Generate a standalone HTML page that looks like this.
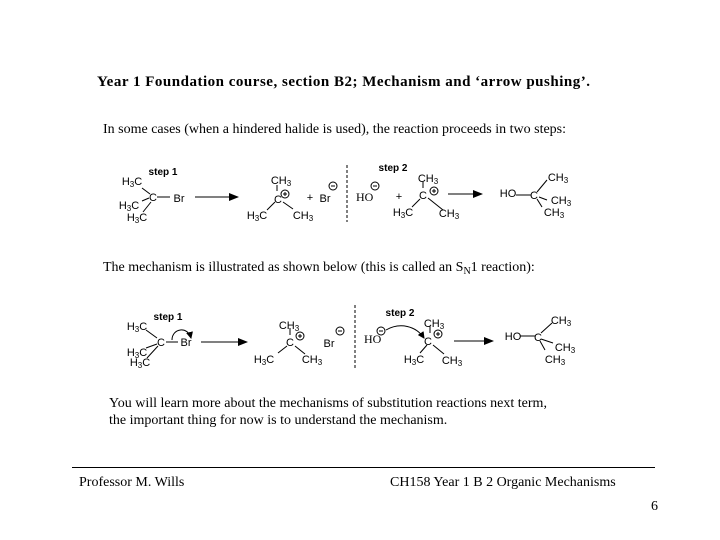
<!DOCTYPE html>
<html><head><meta charset="utf-8"><style>
html,body{margin:0;padding:0;background:#fff;}
svg{display:block}
.s{font-family:"Liberation Serif",serif;fill:#000}
.c{font-family:"Liberation Sans",sans-serif;font-size:11px;fill:#000;text-anchor:middle}
.b{font-family:"Liberation Sans",sans-serif;font-size:10px;font-weight:bold;fill:#000;text-anchor:middle}
</style></head><body>
<svg width="720" height="540" viewBox="0 0 720 540" xmlns="http://www.w3.org/2000/svg">
<defs>
<marker id="ah" markerWidth="10" markerHeight="8" refX="9" refY="4" orient="auto" markerUnits="userSpaceOnUse"><path d="M0,0 L10,4 L0,8 Z" fill="#000"/></marker>
<marker id="ah2" markerWidth="7" markerHeight="7" refX="6" refY="3.5" orient="auto" markerUnits="userSpaceOnUse"><path d="M0,0 L7,3.5 L0,7 Z" fill="#000"/></marker>
</defs>
<text class="s" x="97" y="86" font-size="15" font-weight="bold" textLength="493" lengthAdjust="spacing">Year 1 Foundation course, section B2; Mechanism and ‘arrow pushing’.</text>
<text class="s" x="103" y="133" font-size="14">In some cases (when a hindered halide is used), the reaction proceeds in two steps:</text>
<text class="s" x="103" y="271" font-size="14">The mechanism is illustrated as shown below (this is called an S<tspan font-size="10" dy="3">N</tspan><tspan dy="-3">1 reaction):</tspan></text>
<text class="s" x="109" y="407" font-size="14">You will learn more about the mechanisms of substitution reactions next term,</text>
<text class="s" x="109" y="424" font-size="14">the important thing for now is to understand the mechanism.</text>
<line x1="72" y1="467.5" x2="655" y2="467.5" stroke="#000" stroke-width="1"/>
<text class="s" x="79" y="486" font-size="14">Professor M. Wills</text>
<text class="s" x="390" y="486" font-size="14">CH158 Year 1 B 2 Organic Mechanisms</text>
<text class="s" x="651" y="510" font-size="14">6</text>

<!-- Scheme 1 -->
<g stroke="#000" stroke-width="1" fill="none">
<line x1="142" y1="188" x2="150" y2="194"/>
<line x1="142" y1="201" x2="149" y2="198"/>
<line x1="143" y1="212" x2="151" y2="202"/>
<line x1="157" y1="197" x2="170" y2="197"/>
<line x1="195" y1="197" x2="238" y2="197" marker-end="url(#ah)"/>
<line x1="277" y1="185" x2="277" y2="191"/>
<line x1="267" y1="210" x2="275" y2="202"/>
<line x1="283" y1="202" x2="293" y2="209"/>
<circle cx="285" cy="194" r="4"/><line x1="283" y1="194" x2="287" y2="194"/><line x1="285" y1="192" x2="285" y2="196"/>
<circle cx="333" cy="186" r="4"/><line x1="331" y1="186" x2="335" y2="186"/>
<line x1="347" y1="165" x2="347" y2="222" stroke-dasharray="3,2"/>
<circle cx="375" cy="186" r="4"/><line x1="373" y1="186" x2="377" y2="186"/>
<line x1="423" y1="182" x2="423" y2="188"/>
<line x1="412" y1="207" x2="420" y2="199"/>
<line x1="428" y1="198" x2="443" y2="210"/>
<circle cx="434" cy="191" r="4"/><line x1="432" y1="191" x2="436" y2="191"/><line x1="434" y1="189" x2="434" y2="193"/>
<line x1="448" y1="194" x2="482" y2="194" marker-end="url(#ah)"/>
<line x1="516" y1="195" x2="531" y2="195"/>
<line x1="537" y1="192" x2="547" y2="180"/>
<line x1="539" y1="197" x2="547" y2="200"/>
<line x1="537" y1="199" x2="542" y2="207"/>
</g>
<text class="b" x="163" y="175">step 1</text>
<text class="c" x="132" y="185">H<tspan font-size="8" dy="2">3</tspan><tspan dy="-2">C</tspan></text>
<text class="c" x="153" y="201">C</text>
<text class="c" x="179" y="202">Br</text>
<text class="c" x="129" y="209">H<tspan font-size="8" dy="2">3</tspan><tspan dy="-2">C</tspan></text>
<text class="c" x="137" y="221">H<tspan font-size="8" dy="2">3</tspan><tspan dy="-2">C</tspan></text>
<text class="c" x="281" y="184">CH<tspan font-size="8" dy="2">3</tspan></text>
<text class="c" x="278" y="203">C</text>
<text class="c" x="257" y="219">H<tspan font-size="8" dy="2">3</tspan><tspan dy="-2">C</tspan></text>
<text class="c" x="303" y="219">CH<tspan font-size="8" dy="2">3</tspan></text>
<text class="c" x="310" y="201">+</text>
<text class="c" x="325" y="202">Br</text>
<text class="b" x="393" y="171">step 2</text>
<text class="s" x="356" y="201" font-size="12">HO</text>
<text class="c" x="399" y="200">+</text>
<text class="c" x="428" y="182">CH<tspan font-size="8" dy="2">3</tspan></text>
<text class="c" x="423" y="199">C</text>
<text class="c" x="403" y="216">H<tspan font-size="8" dy="2">3</tspan><tspan dy="-2">C</tspan></text>
<text class="c" x="449" y="217">CH<tspan font-size="8" dy="2">3</tspan></text>
<text class="c" x="508" y="197">HO</text>
<text class="c" x="534" y="199">C</text>
<text class="c" x="558" y="181">CH<tspan font-size="8" dy="2">3</tspan></text>
<text class="c" x="561" y="204">CH<tspan font-size="8" dy="2">3</tspan></text>
<text class="c" x="554" y="216">CH<tspan font-size="8" dy="2">3</tspan></text>

<!-- Scheme 2 -->
<g stroke="#000" stroke-width="1" fill="none">
<line x1="146" y1="330" x2="157" y2="338"/>
<line x1="146" y1="348" x2="157" y2="344"/>
<line x1="147" y1="358" x2="158" y2="346"/>
<line x1="166" y1="342" x2="178" y2="342"/>
<path d="M172,340 C172,328 188,326 191,338" marker-end="url(#ah2)"/>
<line x1="201" y1="342" x2="247" y2="342" marker-end="url(#ah)"/>
<line x1="290" y1="328" x2="290" y2="335"/>
<line x1="278" y1="353" x2="287" y2="346"/>
<line x1="295" y1="346" x2="305" y2="354"/>
<circle cx="300" cy="336" r="4"/><line x1="298" y1="336" x2="302" y2="336"/><line x1="300" y1="334" x2="300" y2="338"/>
<circle cx="340" cy="331" r="4"/><line x1="338" y1="331" x2="342" y2="331"/>
<line x1="355" y1="305" x2="355" y2="370" stroke-dasharray="3,2"/>
<circle cx="381" cy="331" r="4"/><line x1="379" y1="331" x2="383" y2="331"/>
<path d="M386,330 C400,322 416,326 424,338" marker-end="url(#ah2)"/>
<line x1="430" y1="326" x2="430" y2="333"/>
<line x1="420" y1="353" x2="427" y2="345"/>
<line x1="433" y1="345" x2="444" y2="354"/>
<circle cx="438" cy="334" r="4"/><line x1="436" y1="334" x2="440" y2="334"/><line x1="438" y1="332" x2="438" y2="336"/>
<line x1="454" y1="341" x2="493" y2="341" marker-end="url(#ah)"/>
<line x1="520" y1="336" x2="535" y2="336"/>
<line x1="541" y1="333" x2="552" y2="323"/>
<line x1="541" y1="339" x2="553" y2="343"/>
<line x1="540" y1="341" x2="545" y2="350"/>
</g>
<text class="b" x="168" y="320">step 1</text>
<text class="c" x="137" y="330">H<tspan font-size="8" dy="2">3</tspan><tspan dy="-2">C</tspan></text>
<text class="c" x="161" y="346">C</text>
<text class="c" x="186" y="346">Br</text>
<text class="c" x="137" y="356">H<tspan font-size="8" dy="2">3</tspan><tspan dy="-2">C</tspan></text>
<text class="c" x="140" y="366">H<tspan font-size="8" dy="2">3</tspan><tspan dy="-2">C</tspan></text>
<text class="c" x="289" y="329">CH<tspan font-size="8" dy="2">3</tspan></text>
<text class="c" x="290" y="346">C</text>
<text class="c" x="264" y="363">H<tspan font-size="8" dy="2">3</tspan><tspan dy="-2">C</tspan></text>
<text class="c" x="312" y="363">CH<tspan font-size="8" dy="2">3</tspan></text>
<text class="c" x="329" y="347">Br</text>
<text class="b" x="400" y="316">step 2</text>
<text class="s" x="364" y="343" font-size="12">HO</text>
<text class="c" x="434" y="327">CH<tspan font-size="8" dy="2">3</tspan></text>
<text class="c" x="428" y="345">C</text>
<text class="c" x="414" y="363">H<tspan font-size="8" dy="2">3</tspan><tspan dy="-2">C</tspan></text>
<text class="c" x="452" y="364">CH<tspan font-size="8" dy="2">3</tspan></text>
<text class="c" x="513" y="340">HO</text>
<text class="c" x="538" y="341">C</text>
<text class="c" x="561" y="324">CH<tspan font-size="8" dy="2">3</tspan></text>
<text class="c" x="565" y="351">CH<tspan font-size="8" dy="2">3</tspan></text>
<text class="c" x="555" y="363">CH<tspan font-size="8" dy="2">3</tspan></text>
</svg>
</body></html>
